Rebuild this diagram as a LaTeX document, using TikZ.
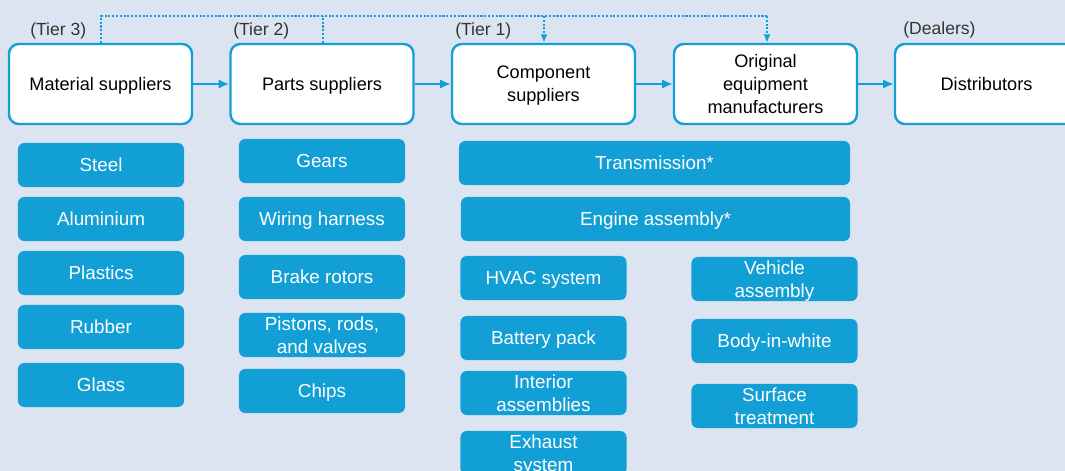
\documentclass[tikz,border=0pt]{standalone}
\usepackage{fontspec}
\setmainfont{Liberation Sans}
\usetikzlibrary{arrows.meta}

\begin{document}
\begin{tikzpicture}[x=0.025cm,y=-0.025cm,
    tierbox/.style={draw=sc_blue, line width=1.7pt, fill=white, rounded corners=7pt,
        minimum width=4.575cm, minimum height=2cm, inner sep=0pt, align=center,
        text depth=0pt, font=\fontsize{12.9}{16.5}\selectfont},
    itembox/.style={fill=sc_blue, text=white, rounded corners=4.5pt,
        minimum width=4.15cm, minimum height=1.1cm, inner sep=0pt, align=center,
        text depth=0pt, font=\fontsize{13.4}{16.8}\selectfont},
    tierlabel/.style={text=sc_grey, anchor=west, inner sep=0pt, text depth=0pt,
        font=\fontsize{12.5}{15}\selectfont},
    flow/.style={draw=sc_blue, line width=1.4pt, -{Latex[length=7.5pt,width=6.5pt]}},
    link/.style={draw=sc_blue, line width=1.4pt, dash pattern=on 1.5pt off 1.2pt}
]
    \definecolor{sc_blue}{HTML}{119FD6}
    \definecolor{sc_bg}{HTML}{DDE4F1}
    \definecolor{sc_grey}{HTML}{333333}
    % \draw[help lines] (0,0) grid[step=50] (1065,471);
    \clip (0,0) rectangle (1065,471);
    \path[fill=sc_bg] (0,0) rectangle (1065,471);

    % supply chain tiers
    \node[tierbox] (material) at (100.5,84) {Material suppliers};
    \node[tierbox] (parts) at (322,84) {Parts suppliers};
    \node[tierbox] (component) at (543.5,84) {Component\\suppliers};
    \node[tierbox] (oem) at (765.5,84) {Original\\equipment\\manufacturers};
    \node[tierbox] (dist) at (986.5,84) {Distributors};

    \node[tierlabel] (t3) at (30,29) {(Tier 3)};
    \node[tierlabel] (t2) at (233,29) {(Tier 2)};
    \node[tierlabel] (t1) at (455,29) {(Tier 1)};
    \node[tierlabel] (dealers) at (903,28) {(Dealers)};

    \draw[flow] (material) -- (parts);
    \draw[flow] (parts) -- (component);
    \draw[flow] (component) -- (oem);
    \draw[flow] (oem) -- (dist);

    % direct supply links
    \coordinate (bus) at (0,16);
    \draw[link] (material.north -| 101,0) -- (bus -| 101,0) -- (bus -| 767,0);
    \draw[link] (parts.north -| 323,0) -- (bus -| 323,0);
    \draw[link, -{Latex[length=6pt,width=5pt]}] (bus -| 544,0) -- (component.north -| 544,0);
    \draw[link, -{Latex[length=6pt,width=5pt]}] (bus -| 767,0) -- (oem.north -| 767,0);

    % tier 3 products
    \node[itembox] (steel) at (101,165) {Steel};
    \node[itembox] (alu) at (101,219) {Aluminium};
    \node[itembox] (plastics) at (101,273) {Plastics};
    \node[itembox] (rubber) at (101,327) {Rubber};
    \node[itembox] (glass) at (101,385) {Glass};

    % tier 2 products
    \node[itembox] (gears) at (322,161) {Gears};
    \node[itembox] (wiring) at (322,219) {Wiring harness};
    \node[itembox] (brake) at (322,277) {Brake rotors};
    \node[itembox] (pistons) at (322,335) {Pistons, rods,\\and valves};
    \node[itembox] (chips) at (322,391) {Chips};

    % tier 1 products
    \node[itembox, minimum width=9.775cm] (trans) at (654.5,163) {Transmission*};
    \node[itembox, minimum width=9.725cm] (engine) at (655.5,219) {Engine assembly*};
    \node[itembox] (hvac) at (543.5,278) {HVAC system};
    \node[itembox] (battery) at (543.5,338) {Battery pack};
    \node[itembox] (interior) at (543.5,393) {Interior\\assemblies};
    \node[itembox] (exhaust) at (543.5,453) {Exhaust\\system};

    % OEM activities
    \node[itembox] (vehicle) at (774.5,279) {Vehicle\\assembly};
    \node[itembox] (biw) at (774.5,341) {Body-in-white};
    \node[itembox] (surface) at (774.5,406) {Surface\\treatment};
\end{tikzpicture}
\end{document}
